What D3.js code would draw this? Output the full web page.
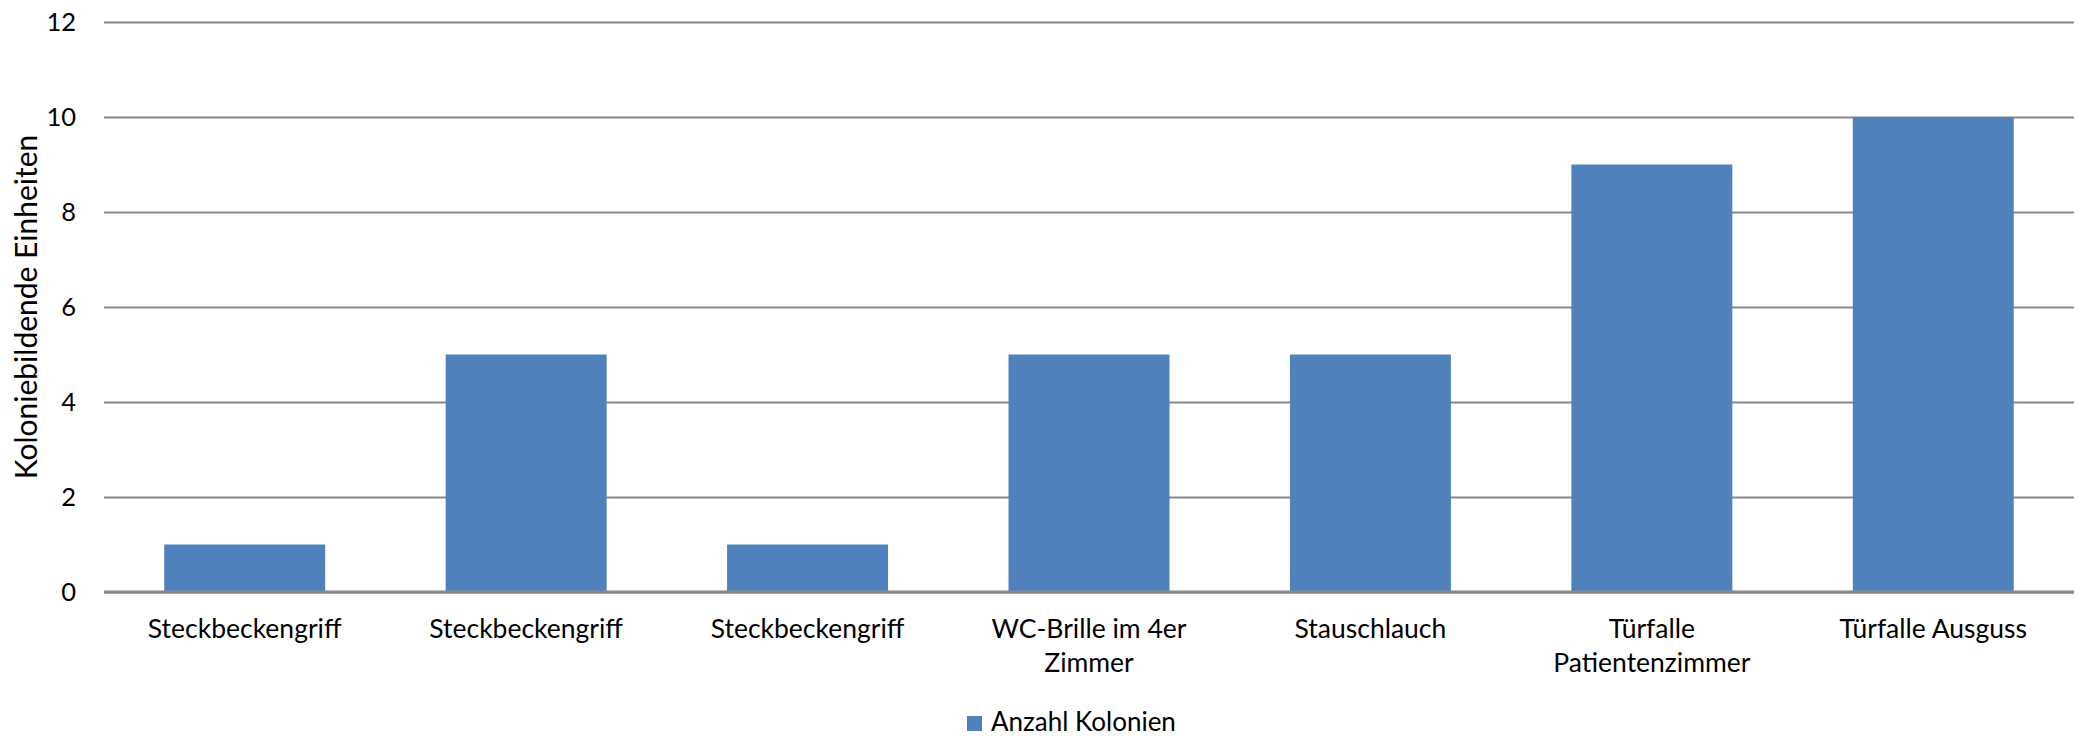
<!DOCTYPE html>
<html>
<head>
<meta charset="utf-8">
<script src="https://cdn.jsdelivr.net/npm/d3@7/dist/d3.min.js"></script>
<style>
  html, body { margin: 0; padding: 0; background: #fff; }
  svg text { font-family: Lato, "Open Sans", sans-serif; fill: #000; }
</style>
</head>
<body>
<svg id="chart" width="2078" height="736"></svg>
<script>
// Sampling sites and colony counts
const categories = [
  "Steckbeckengriff",
  "Steckbeckengriff",
  "Steckbeckengriff",
  "WC-Brille im 4er Zimmer",
  "Stauschlauch",
  "Türfalle Patientenzimmer",
  "Türfalle Ausguss"
];
const colonies = [1, 5, 1, 5, 5, 9, 10];
const yTicks = [0, 2, 4, 6, 8, 10, 12];
const seriesName = "Anzahl Kolonien";
const yTitle = "Koloniebildende Einheiten";

const svg = d3.select("#chart");
const margin = { left: 104, right: 4, top: 22, bottom: 144 };
const W = 2078, H = 736;
const plotW = W - margin.left - margin.right;
const plotH = H - margin.top - margin.bottom;

const data = categories.map((c, i) => ({ key: i, label: c, value: colonies[i] }));

const x = d3.scaleBand()
  .domain(data.map(d => d.key))
  .range([0, plotW])
  .paddingInner(0.428)
  .paddingOuter(0.214);

const y = d3.scaleLinear().domain([0, 12]).range([plotH, 0]);

const g = svg.append("g").attr("transform", `translate(${margin.left},${margin.top})`);

// horizontal gridlines with value labels
const yAxis = d3.axisLeft(y)
  .tickValues(yTicks)
  .tickSize(-plotW)
  .tickPadding(28)
  .tickFormat(d3.format("d"));

const ya = g.append("g").call(yAxis);
ya.select(".domain").remove();
ya.selectAll(".tick line").attr("stroke", "#888").attr("stroke-width", 2);
ya.selectAll(".tick text").attr("font-size", 25.5).attr("fill", "#000");

// bars
g.selectAll("rect.bar")
  .data(data)
  .join("rect")
  .attr("class", "bar")
  .attr("x", d => x(d.key))
  .attr("y", d => y(d.value))
  .attr("width", x.bandwidth())
  .attr("height", d => y(0) - y(d.value))
  .attr("fill", "#4f81bd");

// baseline
g.append("line")
  .attr("x1", 0).attr("x2", plotW)
  .attr("y1", y(0)).attr("y2", y(0))
  .attr("stroke", "#888").attr("stroke-width", 3);

// category labels, wrapped onto lines
const xa = g.append("g").attr("transform", `translate(0,${plotH})`);
const maxLabelW = 240;
data.forEach(d => {
  const t = xa.append("text")
    .attr("text-anchor", "middle")
    .attr("font-size", 26.5)
    .attr("x", x(d.key) + x.bandwidth() / 2)
    .attr("y", 46);
  const words = d.label.split(" ");
  let lines = [], cur = [];
  const probe = t.append("tspan");
  words.forEach(w => {
    const trial = cur.concat([w]).join(" ");
    probe.text(trial);
    if (cur.length && probe.node().getComputedTextLength() > maxLabelW) {
      lines.push(cur.join(" "));
      cur = [w];
    } else {
      cur.push(w);
    }
  });
  lines.push(cur.join(" "));
  probe.remove();
  lines.forEach((ln, i) => {
    t.append("tspan")
      .attr("x", x(d.key) + x.bandwidth() / 2)
      .attr("dy", i === 0 ? 0 : 34)
      .text(ln);
  });
});

// y-axis title
svg.append("text")
  .attr("transform", `translate(37,${margin.top + plotH / 2}) rotate(-90)`)
  .attr("text-anchor", "middle")
  .attr("font-size", 30)
  .text(yTitle);

// legend
const lg = svg.append("g").attr("transform", "translate(967,716)");
lg.append("rect").attr("width", 15).attr("height", 15).attr("fill", "#4f81bd");
lg.append("text").attr("x", 24).attr("y", 15).attr("font-size", 26).text(seriesName);
</script>
</body>
</html>
